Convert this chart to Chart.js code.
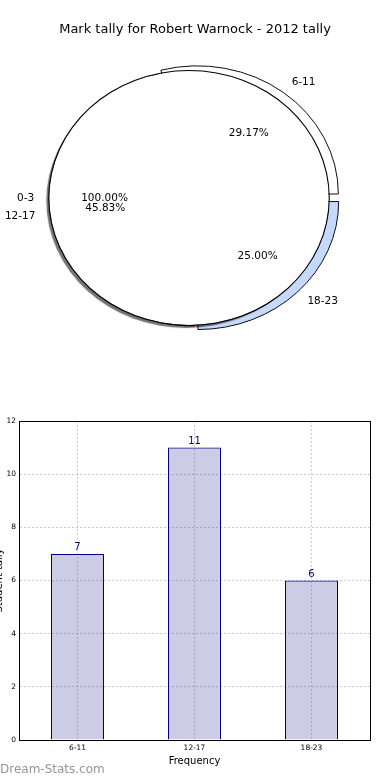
<!DOCTYPE html>
<html><head><meta charset="utf-8">
<script src="https://cdn.jsdelivr.net/npm/chart.js@4.4.0/dist/chart.umd.min.js"></script>
<style>
html,body{margin:0;padding:0;background:#fff;width:390px;height:780px;overflow:hidden;}
#wrap{position:relative;width:390px;height:780px;overflow:hidden;}
canvas{position:absolute;}
#pieBack,#pieFront{left:0;top:0;}
#bar{left:-7px;top:400px;}
</style></head><body>
<div id="wrap">
<canvas id="pieBack" width="390" height="400"></canvas>
<canvas id="pieFront" width="390" height="400"></canvas>
<canvas id="bar" width="397" height="380"></canvas>
</div>
<script>
// ---- data ----
const chartTitle = 'Mark tally for Robert Warnock - 2012 tally';
const categories = ['6-11', '12-17', '18-23'];
const counts = [7, 11, 6];
const overlayCategories = ['0-3'];
const overlayShares = [100];
const yMax = 12;
const yStep = 2;
const xAxisTitle = 'Frequency';
const yAxisTitle = 'Student tally';
const watermark = 'Dream-Stats.com';

// ---- styles ----
const FONT = 'DejaVu Sans';
const sliceColors = ['#ffffff', '#ffffff', '#c6d9fd'];
const sliceOffsets = [20, 0, 20];
const pieSX = 1.1, frontDX = -6, backDX = -1;

// pie order: matplotlib goes counter-clockwise from 3 o'clock, Chart.js clockwise -> reverse
const pieLabels = categories.slice().reverse();
const pieValues = counts.slice().reverse();
const pieCols = sliceColors.slice().reverse();
const pieOffs = sliceOffsets.slice().reverse();
const total = counts.reduce((a, b) => a + b, 0);
const piePct = pieValues.map(v => (v / total * 100).toFixed(2) + '%');
const overlayPct = overlayShares.map(v => v.toFixed(2) + '%');

const ellipsePlugin = {
  id: 'ellipse',
  beforeDatasetsDraw(chart, args, o) {
    const arc = chart.getDatasetMeta(0).data[0];
    const ctx = chart.ctx;
    ctx.save();
    ctx.translate(arc.x + o.dx, arc.y);
    ctx.scale(o.sx, 1);
    ctx.translate(-arc.x, -arc.y);
  },
  beforeDatasetDraw(chart, args, o) {
    if (args.index === o.shadowIndex) {
      const ctx = chart.ctx;
      ctx.save();
      ctx.shadowColor = 'rgba(0,0,0,0.55)';
      ctx.shadowOffsetX = -3;
      ctx.shadowOffsetY = 3;
      ctx.shadowBlur = 1;
    }
  },
  afterDatasetDraw(chart, args, o) {
    if (args.index === o.shadowIndex) chart.ctx.restore();
  },
  afterDatasetsDraw(chart) { chart.ctx.restore(); }
};

const pieBack = new Chart(document.getElementById('pieBack'), {
  type: 'pie',
  data: { labels: pieLabels, datasets: [{ data: pieValues, backgroundColor: pieCols, borderColor: '#000', borderWidth: 0.9, offset: pieOffs }] },
  options: {
    responsive: false, animation: false, devicePixelRatio: 1,
    rotation: 90, radius: 128,
    layout: { padding: { left: 0, right: 0, top: 0, bottom: 4 } },
    plugins: { legend: { display: false }, tooltip: { enabled: false }, ellipse: { sx: pieSX, dx: backDX, shadowIndex: -1 } }
  },
  plugins: [ellipsePlugin]
});

function drawPieLabels(ctx, chart, labels, pcts, dx) {
  const meta = chart.getDatasetMeta(0);
  meta.data.forEach((arc, i) => {
    const a = (arc.startAngle + arc.endAngle) / 2;
    const R = arc.outerRadius;
    const s = (arc.options.offset || 0) / 4;
    const c = Math.cos(a), sn = Math.sin(a);
    const bx = arc.x + (s > 0 ? dx : frontDX), by = arc.y;
    ctx.textBaseline = 'middle';
    ctx.textAlign = c > 0.001 ? 'left' : (c < -0.001 ? 'right' : 'center');
    ctx.fillText(labels[i], bx + pieSX * (1.1 * R + s) * c, by + (1.1 * R + s) * sn);
    ctx.textAlign = 'center';
    ctx.fillText(pcts[i], bx + pieSX * (0.6 * R + s) * c, by + (0.6 * R + s) * sn);
  });
}

const labelPlugin = {
  id: 'pieLabels',
  afterDraw(chart) {
    const ctx = chart.ctx;
    ctx.save();
    ctx.font = '10.5px "' + FONT + '"';
    ctx.fillStyle = '#000';
    drawPieLabels(ctx, chart, overlayCategories, overlayPct, frontDX);
    drawPieLabels(ctx, pieBack, pieLabels, piePct, backDX);
    ctx.restore();
  }
};

// overlay full pie: dataset 0 = thin outline ring, dataset 1 = white body
new Chart(document.getElementById('pieFront'), {
  type: 'pie',
  data: {
    labels: overlayCategories,
    datasets: [
      { data: overlayShares, backgroundColor: '#000000', borderWidth: 0, weight: 1 },
      { data: overlayShares, backgroundColor: '#ffffff', borderWidth: 0, weight: 127 }
    ]
  },
  options: {
    responsive: false, animation: false, devicePixelRatio: 1,
    rotation: 90, radius: 128,
    layout: { padding: { left: 0, right: 0, top: 0, bottom: 41.6 } },
    plugins: {
      legend: { display: false }, tooltip: { enabled: false },
      title: { display: true, text: chartTitle, color: '#000', font: { family: FONT, size: 13, weight: 'normal' }, padding: { top: 22, bottom: 0 } },
      ellipse: { sx: pieSX, dx: frontDX, shadowIndex: 1 }
    }
  },
  plugins: [ellipsePlugin, labelPlugin]
});

// ---- bar chart ----
const barExtras = {
  id: 'barExtras',
  afterDatasetsDraw(chart) {
    const ctx = chart.ctx;
    const meta = chart.getDatasetMeta(0);
    ctx.save();
    ctx.font = '10px "' + FONT + '"';
    ctx.fillStyle = '#000080';
    ctx.textAlign = 'center';
    ctx.textBaseline = 'alphabetic';
    meta.data.forEach((bar, i) => {
      ctx.fillText(String(counts[i]), bar.x, bar.y - 3.5);
    });
    ctx.restore();
  },
  afterDraw(chart) {
    const ctx = chart.ctx;
    ctx.save();
    ctx.font = '12px "' + FONT + '"';
    ctx.fillStyle = '#959595';
    ctx.textAlign = 'left';
    ctx.textBaseline = 'middle';
    ctx.fillText(watermark, 7, 370);
    ctx.restore();
  }
};

const gridStyle = { display: true, color: 'rgba(0,0,0,0.2)', lineWidth: 1, drawTicks: false };
const borderStyle = { display: true, color: '#000', width: 1, dash: [2, 2] };

new Chart(document.getElementById('bar'), {
  type: 'bar',
  data: { labels: categories, datasets: [{ data: counts, backgroundColor: 'rgba(0,0,128,0.2)', borderColor: '#000080', borderWidth: 1, barPercentage: 0.453, categoryPercentage: 1 }] },
  options: {
    responsive: false, animation: false, devicePixelRatio: 1,
    layout: { padding: { left: 0, right: 20, top: 21, bottom: 0 } },
    plugins: { legend: { display: false }, tooltip: { enabled: false } },
    scales: {
      x: {
        type: 'category', position: 'bottom', offset: true,
        grid: Object.assign({}, gridStyle, { offset: false }),
        border: borderStyle,
        ticks: { font: { family: FONT, size: 7.5 }, color: '#000', padding: 4, maxRotation: 0 },
        title: { display: true, text: xAxisTitle, color: '#000', font: { family: FONT, size: 10 }, padding: { top: 0, bottom: 13 } },
        afterFit(s) { s.height = 40; }
      },
      y: {
        type: 'linear', position: 'left', min: 0, max: yMax,
        grid: gridStyle,
        border: borderStyle,
        ticks: { stepSize: yStep, font: { family: FONT, size: 7.5 }, color: '#000', padding: 3 },
        title: { display: true, text: yAxisTitle, color: '#000', font: { family: FONT, size: 10 }, padding: 0 },
        afterFit(s) { s.width = 26; }
      },
      xTop: {
        type: 'category', position: 'top', labels: categories,
        grid: { display: false }, ticks: { display: false },
        border: { display: true, color: '#000', width: 1 },
        afterFit(s) { s.height = 0; }
      },
      yRight: {
        type: 'linear', position: 'right', min: 0, max: yMax,
        grid: { display: false }, ticks: { display: false },
        border: { display: true, color: '#000', width: 1 },
        afterFit(s) { s.width = 0; }
      }
    }
  },
  plugins: [barExtras]
});
</script>
</body></html>
